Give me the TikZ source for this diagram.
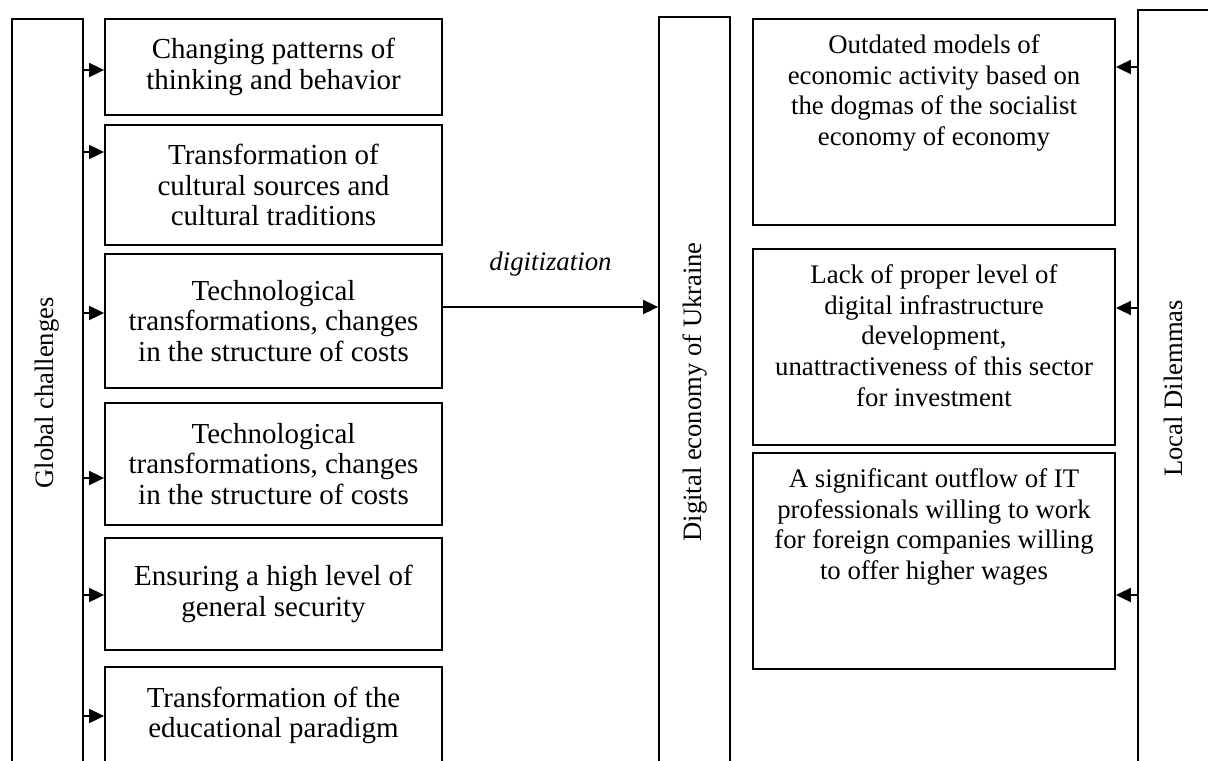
\documentclass[tikz,border=0pt]{standalone}
\usepackage{fontspec}
\setmainfont{Liberation Serif}
\usetikzlibrary{arrows.meta}
\newcommand{\topcell}[2]{\parbox[c][#1][t]{181pt}{\centering\vspace*{8pt}#2}}
\tikzset{
    tallbox/.style={draw, line width=0.9pt, inner sep=0pt, minimum width=35.5pt, anchor=north, font=\fontsize{13.3}{15}\selectfont},
    lbox/.style={draw, line width=0.9pt, inner sep=0pt, minimum width=168.5pt, align=center, font=\fontsize{14.5}{15.3}\selectfont},
    rbox/.style={draw, line width=0.9pt, inner sep=0pt, anchor=north, font=\fontsize{13.4}{15.3}\selectfont},
    arr/.style={line width=0.9pt, -{Triangle[length=7.5pt,width=7pt]}}
}
\begin{document}
    \begin{tikzpicture}[x=0.5pt, y=-0.5pt]
        \useasboundingbox (0,0) rectangle (1208,760);
        \clip (0,0) rectangle (1208,760);
        \fill[white] (0,0) rectangle (1208,760);
        % 竖框
        \node[tallbox, minimum height=374pt] (glob) at (47.5,18) {\rotatebox{90}{Global challenges}};
        \node[tallbox, minimum height=375pt] (dig) at (694.5,16) {\rotatebox{90}{Digital economy of Ukraine}};
        \node[tallbox, minimum height=378.5pt] (loc) at (1173.5,9) {\rotatebox{90}{Local Dilemmas}};
        % 左侧框
        \node[lbox, minimum height=48pt] (g1) at (273.5,67) {Changing patterns of\\thinking and behavior};
        \node[lbox, minimum height=60pt] (g2) at (273.5,185) {Transformation of\\cultural sources and\\cultural traditions};
        \node[lbox, minimum height=67pt] (g3) at (273.5,321) {Technological\\transformations, changes\\in the structure of costs};
        \node[lbox, minimum height=61pt] (g4) at (273.5,464) {Technological\\transformations, changes\\in the structure of costs};
        \node[lbox, minimum height=56pt] (g5) at (273.5,594) {Ensuring a high level of\\general security};
        \node[lbox, minimum height=48.5pt] (g6) at (273.5,715.5) {Transformation of the\\educational paradigm};
        % 右侧框
        \node[rbox] (r1) at (934,18) {\topcell{103pt}{Outdated models of\\economic activity based on\\the dogmas of the socialist\\economy of economy}};
        \node[rbox] (r2) at (934,248) {\topcell{98pt}{Lack of proper level of\\digital infrastructure\\development,\\unattractiveness of this sector\\for investment}};
        \node[rbox] (r3) at (934,452) {\topcell{108pt}{A significant outflow of IT\\professionals willing to work\\for foreign companies willing\\to offer higher wages}};
        % 箭头
        \draw[arr] (glob.east |- 0,70) -- (g1.west |- 0,70);
        \draw[arr] (glob.east |- 0,152) -- (g2.west |- 0,152);
        \draw[arr] (glob.east |- 0,313) -- (g3.west |- 0,313);
        \draw[arr] (glob.east |- 0,478) -- (g4.west |- 0,478);
        \draw[arr] (glob.east |- 0,595) -- (g5.west |- 0,595);
        \draw[arr] (glob.east |- 0,716) -- (g6.west |- 0,716);
        \draw[arr] (g3.east |- 0,307) -- node[above=15pt, inner sep=0pt, font=\fontsize{13.4}{15}\selectfont\itshape] (diglab) {digitization} (dig.west |- 0,307);
        \draw[arr] (loc.west |- 0,67) -- (r1.east |- 0,67);
        \draw[arr] (loc.west |- 0,308) -- (r2.east |- 0,308);
        \draw[arr] (loc.west |- 0,595) -- (r3.east |- 0,595);
    \end{tikzpicture}
\end{document}
